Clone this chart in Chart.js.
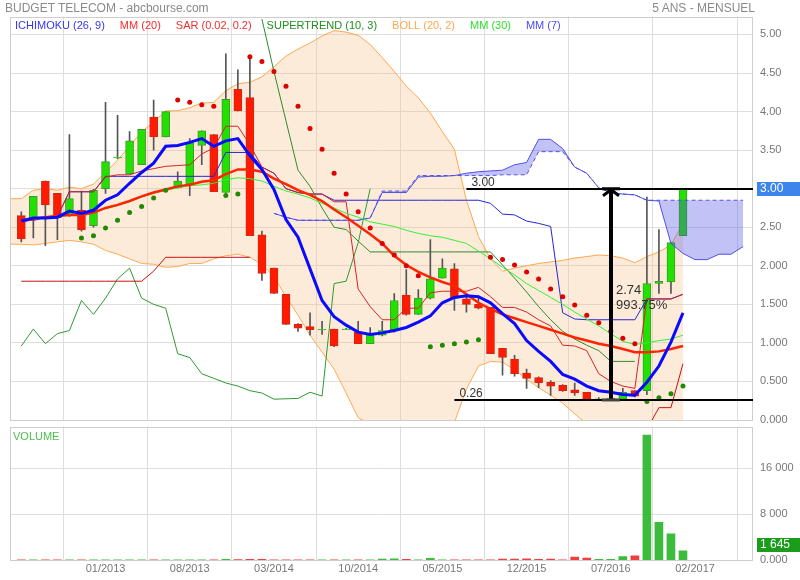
<!DOCTYPE html>
<html>
<head>
<meta charset="utf-8">
<script src="https://cdn.jsdelivr.net/npm/chart.js@4.4.0/dist/chart.umd.min.js"></script>
<style>
  body { margin: 0; background: #fff; font-family: 'Liberation Sans', Arial, sans-serif; }
  #wrap { position: relative; width: 800px; height: 580px; overflow: hidden; }
  #main { position: absolute; left: 0; top: 0; }
  #vol { position: absolute; left: 0; top: 424px; }
  .title { position: absolute; top: 1px; font-size: 12px; color: #8a8a8a; white-space: nowrap; }
</style>
</head>
<body>
<div id="wrap">
  <canvas id="main" width="800" height="424" style="width:800px;height:424px"></canvas>
  <canvas id="vol" width="800" height="156" style="width:800px;height:156px"></canvas>
  <div class="title" style="left:5px">BUDGET TELECOM - abcbourse.com</div>
  <div class="title" style="right:45px">5 ANS - MENSUEL</div>
</div>
<script>
// months, index 0 = 06/2012
const months = ['06/2012','07/2012','08/2012','09/2012','10/2012','11/2012','12/2012',
  '01/2013','02/2013','03/2013','04/2013','05/2013','06/2013','07/2013','08/2013','09/2013','10/2013','11/2013','12/2013',
  '01/2014','02/2014','03/2014','04/2014','05/2014','06/2014','07/2014','08/2014','09/2014','10/2014','11/2014','12/2014',
  '01/2015','02/2015','03/2015','04/2015','05/2015','06/2015','07/2015','08/2015','09/2015','10/2015','11/2015','12/2015',
  '01/2016','02/2016','03/2016','04/2016','05/2016','06/2016','07/2016','08/2016','09/2016','10/2016','11/2016','12/2016',
  '01/2017','02/2017','03/2017','04/2017','05/2017','06/2017','07/2017'];
const xTickLabels = ['01/2013','08/2013','03/2014','10/2014','05/2015','12/2015','07/2016','02/2017'];

const opens = [2.65,2.59,3.10,2.94,2.66,2.72,2.52,3.00,3.40,3.19,
  3.31,3.93,3.67,3.01,3.06,3.56,3.70,2.95,4.29,4.18,
  2.40,1.97,1.63,1.24,1.21,1.168,1.18,1.17,1.14,0.99,
  1.10,1.17,1.62,1.37,1.58,1.84,1.96,1.57,1.50,1.46,
  0.93,0.79,0.61,0.55,0.49,0.45,0.39,0.36,0.27,0.27,
  0.27,0.38,0.38,1.77,1.79,2.39];
const highs = [2.70,2.90,3.10,2.94,3.70,2.97,2.99,4.12,3.95,3.74,
  3.77,4.15,4.00,3.22,3.65,3.75,3.70,4.75,4.54,4.70,
  2.45,1.97,1.63,1.25,1.39,1.28,1.18,1.19,1.28,1.20,
  1.28,1.64,1.95,1.69,2.34,2.09,2.03,1.61,1.61,1.46,
  0.93,0.84,0.66,0.56,0.51,0.46,0.48,0.36,0.29,0.30,
  0.41,0.38,2.89,2.47,2.30,3.00];
const lows = [2.31,2.36,2.26,2.34,2.64,2.45,2.50,2.94,3.39,3.19,
  3.31,3.50,3.67,3.01,2.91,3.31,2.96,2.95,4.01,2.39,
  1.81,1.64,1.24,1.15,1.10,1.11,0.95,1.17,0.99,0.99,
  1.09,1.14,1.36,1.37,1.57,1.84,1.42,1.40,1.44,0.86,
  0.58,0.57,0.41,0.42,0.32,0.37,0.32,0.26,0.26,0.26,
  0.26,0.30,0.33,1.64,1.64,2.39];
const closes = [2.35,2.90,2.79,2.62,2.87,2.47,2.98,3.35,3.41,3.62,
  3.77,3.67,4.00,3.10,3.59,3.75,2.96,4.16,4.01,2.39,
  1.90,1.64,1.24,1.19,1.17,1.175,0.96,1.18,0.99,1.12,
  1.16,1.55,1.37,1.58,1.83,1.97,1.58,1.50,1.45,0.86,
  0.81,0.60,0.54,0.48,0.44,0.38,0.35,0.27,0.275,0.28,
  0.36,0.31,1.77,1.80,2.30,3.00];
const volumes = [30,20,40,20,30,60,20,40,20,30,
  20,80,30,20,30,40,30,150,120,180,
  160,60,90,40,30,70,30,20,30,80,
  200,250,150,100,350,80,80,80,30,40,
  200,200,250,150,200,50,580,400,150,150,
  630,800,21800,6600,4630,1645];

const mm7 = [2.58,2.62,2.62,2.63,2.71,2.68,2.72,2.85,2.92,3.07,
  3.21,3.33,3.55,3.56,3.60,3.65,3.55,3.62,3.65,3.43,
  3.25,2.99,2.60,2.37,1.96,1.55,1.34,1.23,1.14,1.11,
  1.13,1.16,1.20,1.27,1.35,1.52,1.59,1.61,1.60,1.52,
  1.38,1.25,1.03,0.89,0.76,0.59,0.53,0.44,0.38,0.36,
  0.33,0.32,0.49,0.70,1.01,1.39];
const mm20 = [2.58,2.61,2.63,2.65,2.66,2.66,2.69,2.75,2.79,2.84,
  2.90,2.95,2.99,3.03,3.05,3.09,3.11,3.19,3.25,3.25,
  3.22,3.13,3.06,2.98,2.92,2.84,2.73,2.63,2.52,2.41,
  2.29,2.13,2.01,1.92,1.85,1.79,1.74,1.63,1.52,1.44,
  1.37,1.32,1.27,1.22,1.17,1.12,1.07,1.03,0.99,0.96,
  0.92,0.88,0.88,0.89,0.92,0.96];
const mm30 = [2.57,2.60,2.62,2.64,2.65,2.66,2.68,2.74,2.78,2.83,
  2.89,2.94,2.98,3.01,3.04,3.05,3.07,3.12,3.14,3.13,
  3.10,3.03,2.97,2.93,2.88,2.81,2.75,2.68,2.63,2.57,
  2.54,2.51,2.46,2.42,2.39,2.37,2.33,2.29,2.19,2.09,
  1.98,1.88,1.77,1.68,1.59,1.50,1.40,1.31,1.22,1.12,
  1.02,0.98,1.00,1.03,1.05,1.10];

// bollinger bands start one month earlier (05/2012)
const bbStart = -1;
const bbUpper = [2.87, 2.87,2.98,3.00,2.98,3.02,3.00,3.06,3.21,3.37,3.55,
  3.74,3.86,4.01,4.01,4.05,4.11,4.12,4.27,4.36,4.38,
  4.45,4.58,4.72,4.81,4.89,4.98,5.05,5.03,4.99,4.87,
  4.70,4.52,4.33,4.18,3.98,3.74,3.51,2.85,2.38,2.09,
  1.93,1.97,2.00,2.03,2.05,2.07,2.10,2.12,2.14,2.13,
  2.10,2.04,2.12,2.18,2.27,2.55];
const bbLower = [2.28, 2.28,2.27,2.29,2.31,2.33,2.31,2.28,2.20,2.15,2.09,
  2.03,2.02,1.98,1.99,2.03,2.03,2.09,2.13,2.15,2.11,
  2.02,1.86,1.60,1.36,1.10,0.88,0.66,0.35,0.03,-0.05,
  -0.12,-0.26,-0.31,-0.36,-0.28,-0.16,-0.03,0.40,0.70,0.76,
  0.75,0.65,0.53,0.42,0.32,0.22,0.08,-0.05,-0.15,-0.20,
  -0.25,-0.30,-0.35,-0.40,-0.45,-0.60];

const tenkan = [2.58,2.59,2.63,2.64,2.96,2.96,2.96,3.15,3.18,3.18,
  3.23,3.26,3.29,3.30,3.31,3.45,3.53,3.81,3.81,3.57,
  3.28,3.20,3.00,2.95,2.93,2.93,2.83,2.83,1.70,1.47,
  1.30,1.30,1.45,1.45,1.65,1.67,1.67,1.67,1.72,1.60,
  1.46,1.46,1.40,1.30,1.22,0.97,0.96,0.90,0.60,0.50,
  0.44,0.41,1.57,1.57,1.57,1.63];
const kijun = [2.58,2.59,2.63,2.64,2.96,2.96,2.96,3.16,3.16,3.16,
  3.16,3.16,3.16,3.16,3.16,3.16,3.16,3.47,3.47,3.47,
  3.28,3.20,3.00,2.95,2.93,2.93,2.85,2.85,2.85,2.85,
  2.85,2.85,2.85,2.85,2.85,2.85,2.85,2.85,2.85,2.81,
  2.67,2.66,2.58,2.55,2.51,1.39,1.31,1.30,1.30,1.30,
  1.30,1.30,1.57,1.57,1.57,1.63];
// senkou spans, index 0..60 (drawn 26 months ahead)
const spanA = [null,null,null,null,null,null,null,null,null,null,
  null,null,null,null,null,null,null,null,null,null,
  null,2.68,2.63,2.59,2.59,2.59,2.59,2.59,2.59,2.62,
  2.95,2.95,2.95,3.15,3.16,3.16,3.17,3.20,3.22,3.23,
  3.24,3.31,3.34,3.64,3.64,3.52,3.28,3.20,3.01,2.95,
  2.93,2.92,2.85,2.84,2.29,2.16,2.08,2.08,2.15,2.15,
  2.25];
const spanB = [null,null,null,null,null,null,null,null,null,null,
  null,null,null,null,null,null,null,null,null,null,
  null,2.68,2.63,2.59,2.59,2.59,2.59,2.59,2.59,2.62,
  2.97,2.97,2.97,3.17,3.17,3.17,3.17,3.17,3.17,3.17,
  3.18,3.18,3.18,3.48,3.48,3.48,3.28,3.20,3.01,2.95,
  2.93,2.92,2.85,2.85,2.85,2.85,2.85,2.85,2.85,2.85,
  2.85];
const chikouLag = 26;

const superUp = [1.80,1.80,1.80,1.80,1.80,1.80,1.80,1.80,1.80,1.80,
  1.80,1.93,2.11,2.11,2.11,2.11,2.11,2.11,2.11,2.11,
  null,null,null,null,null,null,null,null,null,null,
  null,null,null,null,null,null,null,null,null,null,
  null,null,null,null,null,null,null,null,null,null,
  null,null,-0.12,0.16,0.16,0.73];
const superDown = [null,null,null,null,null,null,null,null,null,null,
  null,null,null,null,null,null,null,null,null,null,
  5.20,4.52,3.88,3.24,3.03,2.75,2.50,2.47,2.32,2.18,
  2.18,2.18,2.18,2.18,2.18,2.18,2.18,2.18,2.18,2.18,
  2.01,1.84,1.66,1.47,1.30,1.15,1.05,0.97,0.90,0.76,
  0.76,0.76,null,null,null,null];
const sar = [null,null,null,null,null,2.36,2.39,2.49,2.59,2.69,
  2.77,2.88,2.98,4.15,4.12,4.09,4.07,2.91,2.93,4.71,
  4.65,4.52,4.33,4.07,3.78,3.51,3.20,2.93,2.70,2.49,
  2.29,2.14,2.00,1.87,0.95,0.97,0.99,1.01,1.04,2.11,
  2.08,2.01,1.92,1.83,1.70,1.60,1.49,1.36,1.26,1.15,
  1.06,0.99,0.24,0.29,0.34,0.44];

const priceTicks = [0,0.5,1,1.5,2,2.5,3,3.5,4,4.5,5];
const priceTickLabels = ['0.000','0.500','1.000','1.500','2.000','2.50','3.00','3.50','4.00','4.50','5.00'];
const volTicks = [0,8000,16000];
const volTickLabels = ['0.000','8 000','16 000'];

// drawn markers: level lines and the measured move
const hiLevel = { value: 3.00, from: 37 };
const loLevel = { value: 0.26, from: 36 };
const moveAt = 49;
const moveTexts = ['2.74', '993.75%'];

const legendItems = [
  ['ICHIMOKU (26, 9)', '#3535ee'], ['MM (20)', '#ff2a2a'], ['SAR (0.02, 0.2)', '#ee2f2f'],
  ['SUPERTREND (10, 3)', '#1f8f1f'], ['BOLL (20, 2)', '#ffa64d'], ['MM (30)', '#2ee02e'], ['MM (7)', '#4a4aff']
];

const FONT = "'Liberation Sans', Arial, sans-serif";
Chart.defaults.font.family = FONT;
Chart.defaults.font.size = 11;
Chart.defaults.color = '#777';

const xMin = -0.94, xMax = 60.82;
const xTickIdx = xTickLabels.map(l => months.indexOf(l));
const GRID = '#dedede';

const pts = (arr, start = 0) => arr.map((v, i) => ({ x: i + start, y: v }));
const lineDs = (data, color, width, order, extra = {}) => Object.assign({
  type: 'line', data, borderColor: color, borderWidth: width, pointRadius: 0,
  tension: 0, fill: false, order, spanGaps: false
}, extra);

const upColor = '#22e000', upEdge = '#3f9a2c', dnColor = '#ff1a00', dnEdge = '#cc2a16';
const isUp = closes.map((c, i) => c >= opens[i]);

// keep the plot area exactly where the layout padding puts it
const fitY = w => s => { s.width = w; s.paddingTop = 0; s.paddingBottom = 0; };
const fitX = h => s => { s.height = h; s.paddingLeft = 0; s.paddingRight = 0; };

const framePlugin = {
  id: 'frame',
  afterDraw(chart) {
    const { ctx, chartArea: a } = chart;
    ctx.save();
    ctx.strokeStyle = '#cdcdcd';
    ctx.lineWidth = 1;
    ctx.strokeRect(Math.round(a.left) + 0.5, Math.round(a.top) + 0.5,
      Math.round(a.right - a.left) - 1, Math.round(a.bottom - a.top) - 1);
    ctx.restore();
  }
};

const marksPlugin = {
  id: 'marks',
  afterDraw(chart) {
    const { ctx, chartArea: a, scales: { x, y } } = chart;
    ctx.save();
    // legend row inside the plot
    ctx.font = '11px ' + FONT;
    ctx.textBaseline = 'alphabetic';
    let lx = 15;
    legendItems.forEach(([txt, col]) => {
      ctx.fillStyle = col;
      ctx.fillText(txt, lx, 28.5);
      lx += ctx.measureText(txt).width + 15;
    });
    // level lines
    ctx.strokeStyle = '#000';
    ctx.lineWidth = 2;
    ctx.font = '12px ' + FONT;
    ctx.fillStyle = '#333';
    [hiLevel, loLevel].forEach(lv => {
      const yy = Math.round(y.getPixelForValue(lv.value));
      const x0 = x.getPixelForValue(lv.from);
      ctx.beginPath();
      ctx.moveTo(x0, yy);
      ctx.lineTo(a.right, yy);
      ctx.stroke();
      ctx.fillText(lv.value.toFixed(2), x0 + 5, yy - 3);
    });
    // measured move arrow
    const ax = Math.round(x.getPixelForValue(moveAt));
    const yTop = y.getPixelForValue(hiLevel.value);
    const yBot = y.getPixelForValue(loLevel.value);
    ctx.lineWidth = 4;
    ctx.beginPath();
    ctx.moveTo(ax, yBot);
    ctx.lineTo(ax, yTop + 2);
    ctx.stroke();
    ctx.lineWidth = 3;
    ctx.beginPath();
    ctx.moveTo(ax - 8, yTop + 7);
    ctx.lineTo(ax, yTop + 1);
    ctx.lineTo(ax + 8, yTop + 7);
    ctx.moveTo(ax - 9, yTop);
    ctx.lineTo(ax + 9, yTop);
    ctx.stroke();
    ctx.strokeStyle = '#444';
    ctx.beginPath();
    ctx.moveTo(ax - 9, yBot);
    ctx.lineTo(ax + 9, yBot);
    ctx.stroke();
    const mid = (yTop + yBot) / 2;
    ctx.font = '13px ' + FONT;
    ctx.fillStyle = '#333';
    ctx.fillText(moveTexts[0], ax + 5, mid);
    ctx.fillText(moveTexts[1], ax + 5, mid + 15);
    // last price box
    const last = closes[closes.length - 1];
    const py = y.getPixelForValue(last);
    ctx.fillStyle = '#3d85ec';
    ctx.fillRect(757, Math.round(py) - 7, 43, 14);
    ctx.fillStyle = '#fff';
    ctx.font = '12px ' + FONT;
    ctx.textBaseline = 'middle';
    ctx.fillText(last.toFixed(2), 760, py);
    ctx.restore();
  }
};

const volPlugin = {
  id: 'volmarks',
  afterDraw(chart) {
    const { ctx, scales: { y } } = chart;
    ctx.save();
    ctx.font = '11px ' + FONT;
    ctx.fillStyle = '#4cbf4c';
    ctx.fillText('VOLUME', 13, 16);
    const last = volumes[volumes.length - 1];
    const vy = Math.round(y.getPixelForValue(last));
    ctx.fillStyle = '#1b9c1b';
    ctx.fillRect(757, vy - 13, 43, 14);
    ctx.fillStyle = '#fff';
    ctx.font = '12px ' + FONT;
    ctx.textBaseline = 'middle';
    ctx.fillText(String(last).replace(/\B(?=(\d{3})+(?!\d))/g, ' '), 760, vy - 6);
    ctx.restore();
  }
};

const datasets = [];
// bollinger bands (0 = lower, 1 = upper filled to lower)
datasets.push(lineDs(pts(bbLower, bbStart), '#ffa64d', 1, 100));
datasets.push(lineDs(pts(bbUpper, bbStart), '#ffa64d', 1, 99, {
  fill: { target: 0, above: 'rgba(248,190,130,0.3)', below: 'rgba(248,190,130,0.3)' }
}));
// candle wicks and bodies
datasets.push({
  type: 'bar', data: highs.map((h, i) => ({ x: i, y: [lows[i], h] })),
  backgroundColor: '#555', barThickness: 1, grouped: false, order: 90
});
datasets.push({
  type: 'bar', data: opens.map((o, i) => ({ x: i, y: [o, closes[i]] })),
  backgroundColor: isUp.map(u => u ? upColor : dnColor),
  borderColor: isUp.map(u => u ? upEdge : dnEdge),
  borderWidth: 1, borderSkipped: false, barThickness: 8, grouped: false, order: 80
});
// ichimoku cloud (4 = span B, 5 = span A filled to B)
datasets.push(lineDs(pts(spanB), '#5050ea', 1, 36, { borderDash: [4, 3] }));
datasets.push(lineDs(pts(spanA), '#5050ea', 1, 35, {
  fill: { target: 4, above: 'rgba(80,80,230,0.35)', below: 'rgba(80,80,230,0.35)' }
}));
datasets.push(lineDs(pts(closes.slice(chikouLag)), '#2f9a2f', 1, 42));
datasets.push(lineDs(pts(kijun), '#2525d8', 1, 41));
datasets.push(lineDs(pts(tenkan), '#d42424', 1, 40));
datasets.push(lineDs(pts(superUp), '#c81010', 1, 30));
datasets.push(lineDs(pts(superDown), '#2b8a2b', 1, 30));
datasets.push(lineDs(pts(mm30), '#33ee33', 1, 25));
datasets.push(lineDs(pts(mm20), '#ff2400', 2.5, 20));
datasets.push(lineDs(pts(mm7), '#0a0aff', 3, 15));
datasets.push({
  type: 'line', data: pts(sar), showLine: false, order: 5,
  pointRadius: 2.5, pointBorderWidth: 0,
  pointBackgroundColor: sar.map((s, i) => s !== null && s > closes[i] ? '#dd0000' : '#228a00')
});

new Chart(document.getElementById('main'), {
  type: 'bar',
  data: { datasets },
  options: {
    responsive: false,
    animation: false,
    events: [],
    layout: { padding: { left: 10, top: 16.5, bottom: 2.5, right: 0 } },
    plugins: { legend: { display: false }, tooltip: { enabled: false } },
    scales: {
      x: {
        type: 'linear', min: xMin, max: xMax, offset: false,
        afterBuildTicks: s => { s.ticks = xTickIdx.map(v => ({ value: v })); },
        afterFit: fitX(0),
        ticks: { display: false },
        grid: { color: GRID, drawTicks: false },
        border: { display: false }
      },
      y: {
        position: 'right', min: 0, max: 5.233,
        afterBuildTicks: s => { s.ticks = priceTicks.map(v => ({ value: v })); },
        afterFit: fitY(47),
        ticks: { padding: 7, color: '#777', callback: (v, i) => priceTickLabels[i] },
        grid: { color: GRID, drawTicks: false },
        border: { display: false }
      }
    }
  },
  plugins: [framePlugin, marksPlugin]
});

new Chart(document.getElementById('vol'), {
  type: 'bar',
  data: {
    datasets: [{
      data: pts(volumes),
      backgroundColor: isUp.map(u => u ? 'rgba(40,180,40,0.9)' : 'rgba(240,40,40,0.9)'),
      barThickness: 8, grouped: false
    }]
  },
  options: {
    responsive: false,
    animation: false,
    events: [],
    layout: { padding: { left: 10, top: 2.5, bottom: 0, right: 0 } },
    plugins: { legend: { display: false }, tooltip: { enabled: false } },
    scales: {
      x: {
        type: 'linear', min: xMin, max: xMax, offset: false,
        afterBuildTicks: s => { s.ticks = xTickIdx.map(v => ({ value: v })); },
        afterFit: fitX(19.7),
        ticks: { padding: 2, autoSkip: false, maxRotation: 0, color: '#777', callback: (v, i) => xTickLabels[i] },
        grid: { color: GRID, drawTicks: false },
        border: { display: false }
      },
      y: {
        position: 'right', min: 0, max: 23300,
        afterBuildTicks: s => { s.ticks = volTicks.map(v => ({ value: v })); },
        afterFit: fitY(47),
        ticks: { padding: 7, color: '#777', callback: (v, i) => volTickLabels[i] },
        grid: { color: GRID, drawTicks: false },
        border: { display: false }
      }
    }
  },
  plugins: [framePlugin, volPlugin]
});
</script>
</body>
</html>
